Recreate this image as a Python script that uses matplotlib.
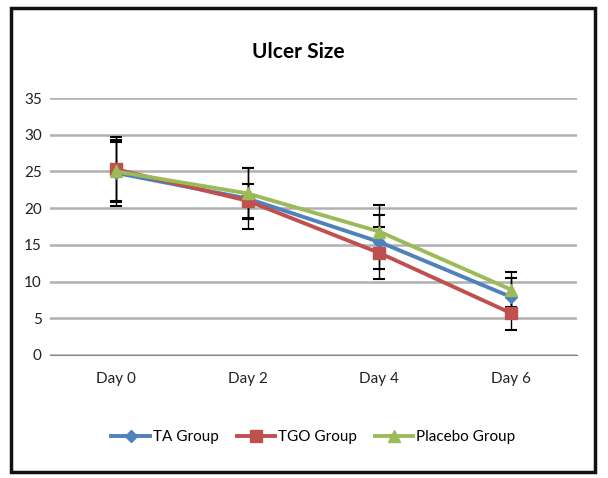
import matplotlib.pyplot as plt
from matplotlib.patches import Rectangle
from matplotlib.lines import Line2D

days = ["Day 0", "Day 2", "Day 4", "Day 6"]
ta_mean = [24.8, 21.3, 15.4, 7.9]
ta_err = [4.5, 4.2, 3.7, 2.6]
tgo_mean = [25.3, 21.0, 13.9, 5.7]
tgo_err = [4.4, 2.3, 3.6, 2.3]
placebo_mean = [25.0, 22.0, 16.8, 8.9]
placebo_err = [4.0, 3.5, 3.6, 2.4]
series_names = ["TA Group", "TGO Group", "Placebo Group"]

plt.rcParams['font.family'] = ['Lato', 'DejaVu Sans']

fig = plt.figure(figsize=(6.08, 4.78), dpi=100)
# outer chart frame
fig.patches.append(Rectangle((11 / 608, 6 / 478), 584 / 608, 464 / 478,
                             transform=fig.transFigure, fill=False,
                             edgecolor='#111111', linewidth=2.5))

ax = fig.add_axes([50 / 608, 123 / 478, 527 / 608, 257 / 478])

x = range(len(days))
styles = [("#4F81BD", "D", 6), ("#C0504D", "s", 8), ("#9BBB59", "^", 8)]
handles = []
for name, mean, err, (col, mk, ms) in zip(series_names,
                                          [ta_mean, tgo_mean, placebo_mean],
                                          [ta_err, tgo_err, placebo_err],
                                          styles):
    ax.errorbar(x, mean, yerr=err, color=col, marker=mk, markersize=ms,
                linewidth=2.8, ecolor='black', elinewidth=1, capsize=4,
                capthick=1.5, zorder=3)
    handles.append(Line2D([], [], color=col, marker=mk, markersize=ms,
                          linewidth=2.8, label=name))

ax.set_xlim(-0.5, 3.5)
ax.set_ylim(0, 35)
ax.set_yticks(range(0, 40, 5))
ax.set_xticks(list(x))
ax.set_xticklabels(days)
ax.yaxis.grid(True, color='#b0b0b0', linewidth=1.8)
ax.set_axisbelow(True)
for s in ['top', 'right', 'left']:
    ax.spines[s].set_visible(False)
ax.spines['bottom'].set_color('#888888')
ax.tick_params(length=0, labelsize=11, colors='#222222')
ax.tick_params(axis='x', pad=12)
ax.tick_params(axis='y', pad=6)

fig.text(298 / 608, 1 - 52 / 478, "Ulcer Size", ha='center', va='center',
         fontsize=15, fontweight='bold')

ax.legend(handles=handles, loc='center', bbox_to_anchor=(0.5, -0.32), ncol=3,
          frameon=False, fontsize=11, handlelength=2.5, columnspacing=1.2,
          handletextpad=0.2)

fig.savefig("out.png", dpi=100)
